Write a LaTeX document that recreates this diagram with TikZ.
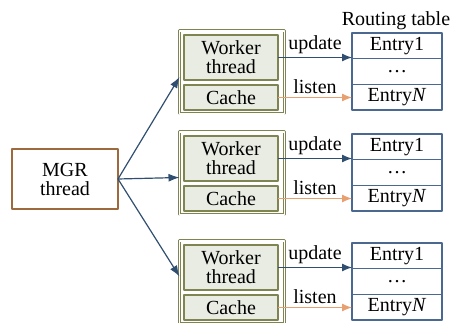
\documentclass[tikz,border=0pt]{standalone}
\usepackage{fontspec}
\setmainfont{Liberation Serif}
\usetikzlibrary{positioning,arrows.meta}
\definecolor{boxolive}{HTML}{7F8450}
\definecolor{boxfill}{HTML}{E9ECE3}
\definecolor{tableblue}{HTML}{4A6890}
\definecolor{updateblue}{HTML}{2F4E70}
\definecolor{listenorange}{HTML}{E8A070}
\definecolor{mgrbrown}{HTML}{9C6A3C}
\tikzset{
  mgrbox/.style={draw=mgrbrown, line width=1.2pt, fill=white, minimum width=106, minimum height=60, align=center, outer sep=0pt},
  groupbox/.style={draw=boxolive, double=white, double distance=1.4pt, line width=0.8pt, minimum width=105, minimum height=83, outer sep=0pt},
  workerbox/.style={draw=boxolive, line width=1.3pt, fill=boxfill, minimum width=94, minimum height=45, align=center, inner sep=0pt, outer sep=0pt},
  entrybox/.style={draw=tableblue, line width=1.3pt, fill=white, minimum width=90, minimum height=25.7, inner sep=0pt, outer sep=0pt},
  update/.style={draw=updateblue, line width=1.2pt, -{Latex[length=10pt,width=8pt]}},
  listen/.style={draw=listenorange, line width=1.2pt, -{Latex[length=10pt,width=8pt]}},
  feed/.style={draw=updateblue, line width=1.2pt, -{Latex[length=11pt,width=8pt]}}
}
\begin{document}
\begin{tikzpicture}[x=1pt, y=-1pt, font=\fontsize{20}{19}\selectfont, line join=round]
	\useasboundingbox (0,0) rectangle (451,323);
	\node[mgrbox] (mgr) at (65,179) {MGR\\thread};
	\node[anchor=base] (rt) at (396,26) {Routing table};
	\foreach \n/\t/\d in {1/31/-4.5,2/132/-4,3/241/6}{
		\node[groupbox, anchor=north] (g\n) at (232,\t) {};
		\node[workerbox, anchor=north] (w\n) at (231,\t+4) {Worker\\thread};
		\node[workerbox, minimum height=25, below=5pt of w\n] (c\n) {Cache};
		\node[entrybox, anchor=north] (ea\n) at (397,\t+2) {Entry1};
		\node[entrybox, below=0pt of ea\n] (eb\n) {\dots};
		\node[entrybox, below=0pt of eb\n] (ec\n) {Entry\textit{N}};
		\draw[update] (w\n.east) -- (w\n.east -| ea\n.west) node[midway, anchor=base, yshift=8pt] {update};
		\draw[listen] (c\n.east) -- (c\n.east -| ec\n.west) node[midway, anchor=base, yshift=4pt] {listen};
		\draw[feed] (mgr.east) -- ([yshift=\d pt]g\n.west);
	}
\end{tikzpicture}
\end{document}
